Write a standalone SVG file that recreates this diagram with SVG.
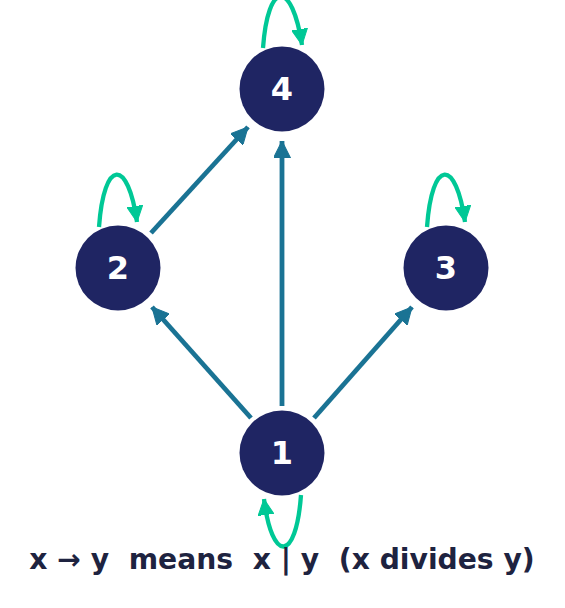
<svg xmlns="http://www.w3.org/2000/svg" width="565" height="608" viewBox="0 0 565 608">
<defs>
<style>
.node circle{fill:#1f2563}
.node text{fill:#ffffff;font-family:"DejaVu Sans",sans-serif;font-weight:bold;font-size:32px;text-anchor:middle}
.edge{fill:none;stroke:#1a7394;stroke-width:4.8;stroke-linecap:butt;marker-end:url(#ah)}
.loop{fill:none;stroke:#00c896;stroke-width:4.3;stroke-linecap:butt;marker-end:url(#ahg)}
.caption{fill:#1e2340;font-family:"DejaVu Sans",sans-serif;font-weight:bold;font-size:28.2px;text-anchor:middle}
</style>
<marker id="ah" markerUnits="userSpaceOnUse" viewBox="0 0 16 16" markerWidth="17" markerHeight="17" refX="16" refY="8" orient="auto">
<path d="M0,0 L16,8 L0,16 z" fill="#1a7394" stroke="#1a7394" stroke-width="1" stroke-linejoin="round"/>
</marker>
<marker id="ahg" markerUnits="userSpaceOnUse" viewBox="0 0 16 16" markerWidth="16" markerHeight="16" refX="16" refY="8" orient="auto">
<path d="M0,0 L16,8 L0,16 z" fill="#00c896" stroke="#00c896" stroke-width="1" stroke-linejoin="round"/>
</marker>
</defs>
<g id="connectors">
<path class="edge" d="M251,418 L152,307"/>
<path class="edge" d="M282,406 L282,141"/>
<path class="edge" d="M314,418 L412,307"/>
<path class="edge" d="M151,233 L248,127"/>
<path class="loop" d="M263,48 C268,-20 292,-20 302,45"/>
<path class="loop" d="M99,227 C104,158 128,158 137,222"/>
<path class="loop" d="M427,227 C432,158 456,158 465,222"/>
<path class="loop" d="M301,495 C296,563 272,563 264,499"/>
</g>
<g id="node-4" class="node"><circle cx="282" cy="89" r="42.5"/><text x="282" y="100">4</text></g>
<g id="node-2" class="node"><circle cx="118" cy="268" r="42.5"/><text x="118" y="279">2</text></g>
<g id="node-3" class="node"><circle cx="446" cy="268" r="42.5"/><text x="446" y="279">3</text></g>
<g id="node-1" class="node"><circle cx="282" cy="453" r="42.5"/><text x="282" y="464">1</text></g>
<text class="caption" x="282" y="569" xml:space="preserve">x → y  means  x | y  (x divides y)</text>
</svg>
